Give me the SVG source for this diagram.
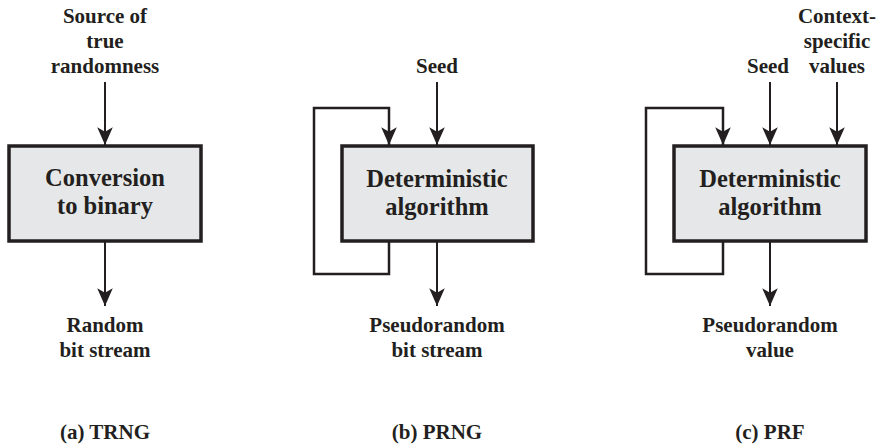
<svg xmlns="http://www.w3.org/2000/svg" width="879" height="447" viewBox="0 0 879 447">
<style>
.box{fill:#e6e7e8;stroke:#231f20;stroke-width:3.5}
.bt{font-weight:bold;font-size:24.5px;fill:#231f20;text-anchor:middle}
.lb{font-weight:bold;font-size:21px;fill:#231f20;text-anchor:middle}
.ln{fill:none;stroke:#231f20;stroke-width:2}
.lp{fill:none;stroke:#231f20;stroke-width:2.5}
</style>
<defs>
<marker id="ah" markerUnits="userSpaceOnUse" markerWidth="20" markerHeight="20" refX="0" refY="0" viewBox="-17 -8 18 16" orient="auto" overflow="visible">
<path d="M0,0 L-16,-7 L-12,0 L-16,7 Z" fill="#231f20"/>
</marker>
</defs>
<rect width="879" height="447" fill="#ffffff"/>
<g id="connectors">
<line class="ln" x1="105" y1="82" x2="105" y2="145" marker-end="url(#ah)"/>
<line class="ln" x1="105" y1="242" x2="105" y2="306" marker-end="url(#ah)"/>
<line class="ln" x1="437" y1="82" x2="437" y2="145" marker-end="url(#ah)"/>
<line class="ln" x1="437" y1="242" x2="437" y2="306" marker-end="url(#ah)"/>
<polyline class="lp" points="389,242 389,274 314,274 314,108 389,108 389,145" marker-end="url(#ah)"/>
<line class="ln" x1="770" y1="82" x2="770" y2="145" marker-end="url(#ah)"/>
<line class="ln" x1="837" y1="82" x2="837" y2="145" marker-end="url(#ah)"/>
<line class="ln" x1="770" y1="242" x2="770" y2="306" marker-end="url(#ah)"/>
<polyline class="lp" points="723,242 723,274 646,274 646,108 723,108 723,145" marker-end="url(#ah)"/>
</g>
<g font-family="Liberation Serif, Times New Roman, serif">
<g id="trng">
<rect class="box" x="9" y="146" width="192" height="95"/>
<text class="bt" x="105" y="186">Conversion</text>
<text class="bt" x="105" y="214">to binary</text>
</g>
<g id="prng">
<rect class="box" x="342" y="146" width="191" height="95"/>
<text class="bt" x="437" y="187">Deterministic</text>
<text class="bt" x="437" y="215">algorithm</text>
</g>
<g id="prf">
<rect class="box" x="674" y="146" width="192" height="95"/>
<text class="bt" x="770" y="187">Deterministic</text>
<text class="bt" x="770" y="215">algorithm</text>
</g>
<g id="labels">
<text class="lb" x="105" y="23">Source of</text>
<text class="lb" x="105" y="48">true</text>
<text class="lb" x="105" y="73">randomness</text>
<text class="lb" x="437" y="73">Seed</text>
<text class="lb" x="768" y="73">Seed</text>
<text class="lb" x="837" y="23">Context-</text>
<text class="lb" x="837" y="48">specific</text>
<text class="lb" x="837" y="73">values</text>
<text class="lb" x="105" y="332">Random</text>
<text class="lb" x="105" y="357">bit stream</text>
<text class="lb" x="437" y="332">Pseudorandom</text>
<text class="lb" x="437" y="357">bit stream</text>
<text class="lb" x="770" y="332">Pseudorandom</text>
<text class="lb" x="770" y="357">value</text>
<text class="lb" x="105" y="439">(a) TRNG</text>
<text class="lb" x="437" y="439">(b) PRNG</text>
<text class="lb" x="770" y="439">(c) PRF</text>
</g>
</g>
</svg>
